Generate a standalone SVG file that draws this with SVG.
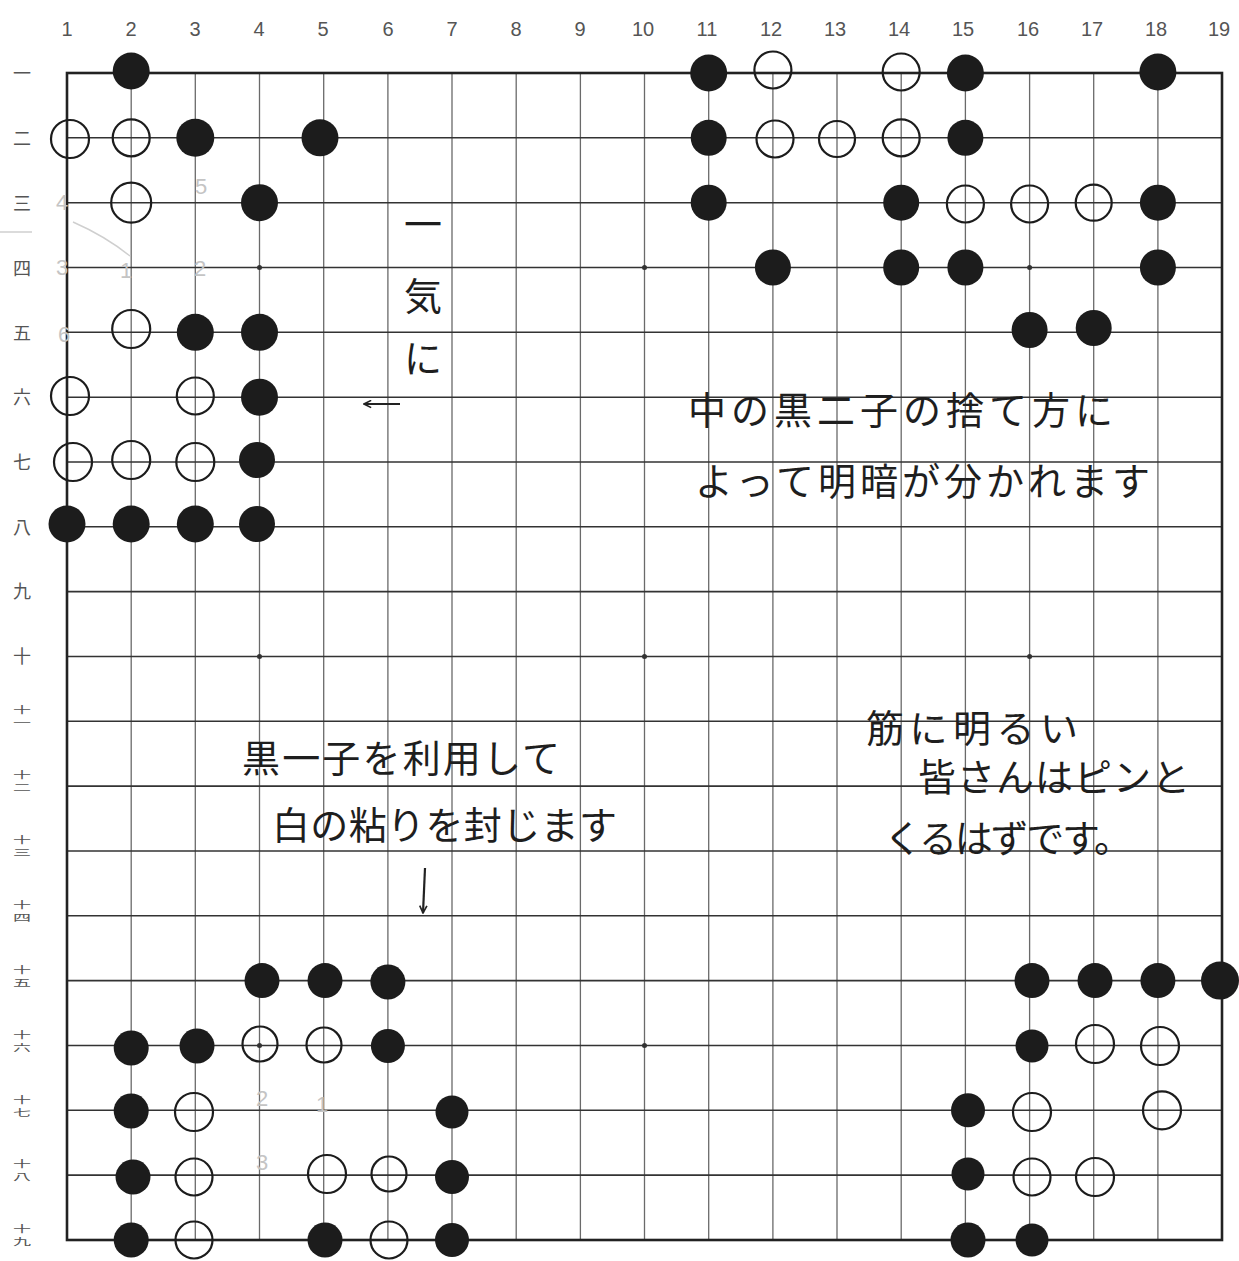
<svg xmlns="http://www.w3.org/2000/svg" width="1239" height="1261" viewBox="0 0 1239 1261">
<defs>
<marker id="ah" viewBox="0 0 10 10" refX="9" refY="5" markerWidth="9" markerHeight="9" orient="auto" markerUnits="userSpaceOnUse">
<path d="M1,1 L9,5 L1,9" fill="none" stroke="#222" stroke-width="1.8"/>
</marker>
</defs>
<style>
.gv{stroke:#6a6a6a;stroke-width:1.3;fill:none}
.gh{stroke:#333;stroke-width:1.6;fill:none}
.border{stroke:#222;stroke-width:2.6;fill:none}
.b{fill:#1c1c1c}
.w{fill:none;stroke:#1c1c1c;stroke-width:2.2}
.star{fill:#333}
.num{font-family:"Liberation Sans",sans-serif;font-size:20px;fill:#555;text-anchor:middle}
.rl{font-family:"Noto Sans CJK JP",sans-serif;font-size:18px;fill:#555;text-anchor:middle}
.hw{font-family:"Noto Sans CJK JP",sans-serif;font-size:38px;fill:#1e1e1e}
.pen{font-family:"Liberation Sans",sans-serif;font-size:22px;fill:#c4c4c4;text-anchor:middle}
.arr{stroke:#222;stroke-width:2.2;fill:none}
</style>
<rect width="1239" height="1261" fill="#ffffff"/>

<g id="column-numbers">
<text class="num" x="67" y="36">1</text>
<text class="num" x="131" y="36">2</text>
<text class="num" x="195" y="36">3</text>
<text class="num" x="259" y="36">4</text>
<text class="num" x="323" y="36">5</text>
<text class="num" x="388" y="36">6</text>
<text class="num" x="452" y="36">7</text>
<text class="num" x="516" y="36">8</text>
<text class="num" x="580" y="36">9</text>
<text class="num" x="643" y="36">10</text>
<text class="num" x="707" y="36">11</text>
<text class="num" x="771" y="36">12</text>
<text class="num" x="835" y="36">13</text>
<text class="num" x="899" y="36">14</text>
<text class="num" x="963" y="36">15</text>
<text class="num" x="1028" y="36">16</text>
<text class="num" x="1092" y="36">17</text>
<text class="num" x="1156" y="36">18</text>
<text class="num" x="1219" y="36">19</text>
</g>

<g id="row-labels">
<text class="rl" x="22" y="80">一</text>
<text class="rl" x="22" y="145">二</text>
<text class="rl" x="22" y="210">三</text>
<text class="rl" x="22" y="275">四</text>
<text class="rl" x="22" y="340">五</text>
<text class="rl" x="22" y="404">六</text>
<text class="rl" x="22" y="469">七</text>
<text class="rl" x="22" y="534">八</text>
<text class="rl" x="22" y="598">九</text>
<text class="rl" x="22" y="663">十</text>
<text class="rl" transform="translate(22,717) scale(1,0.5)"><tspan x="0" y="-8">十</tspan><tspan x="0" y="17">一</tspan></text>
<text class="rl" transform="translate(22,782) scale(1,0.5)"><tspan x="0" y="-8">十</tspan><tspan x="0" y="17">二</tspan></text>
<text class="rl" transform="translate(22,847) scale(1,0.5)"><tspan x="0" y="-8">十</tspan><tspan x="0" y="17">三</tspan></text>
<text class="rl" transform="translate(22,912) scale(1,0.5)"><tspan x="0" y="-8">十</tspan><tspan x="0" y="17">四</tspan></text>
<text class="rl" transform="translate(22,977) scale(1,0.5)"><tspan x="0" y="-8">十</tspan><tspan x="0" y="17">五</tspan></text>
<text class="rl" transform="translate(22,1042) scale(1,0.5)"><tspan x="0" y="-8">十</tspan><tspan x="0" y="17">六</tspan></text>
<text class="rl" transform="translate(22,1107) scale(1,0.5)"><tspan x="0" y="-8">十</tspan><tspan x="0" y="17">七</tspan></text>
<text class="rl" transform="translate(22,1171) scale(1,0.5)"><tspan x="0" y="-8">十</tspan><tspan x="0" y="17">八</tspan></text>
<text class="rl" transform="translate(22,1236) scale(1,0.5)"><tspan x="0" y="-8">十</tspan><tspan x="0" y="17">九</tspan></text>
</g>

<g id="grid">
<path class="gv" d="M131.2,73V1240 M195.3,73V1240 M259.5,73V1240 M323.7,73V1240 M387.9,73V1240 M452,73V1240 M516.2,73V1240 M580.4,73V1240 M644.5,73V1240 M708.7,73V1240 M772.9,73V1240 M837,73V1240 M901.2,73V1240 M965.4,73V1240 M1029.6,73V1240 M1093.7,73V1240 M1157.9,73V1240"/>
<path class="gh" d="M67,137.8H1222 M67,202.7H1222 M67,267.5H1222 M67,332.3H1222 M67,397.2H1222 M67,462H1222 M67,526.8H1222 M67,591.6H1222 M67,656.5H1222 M67,721.3H1222 M67,786.1H1222 M67,851H1222 M67,915.8H1222 M67,980.6H1222 M67,1045.5H1222 M67,1110.3H1222 M67,1175.1H1222"/>
<rect class="border" x="67" y="73" width="1155" height="1167"/>
<circle class="star" cx="259.5" cy="267.5" r="2.5"/>
<circle class="star" cx="644.5" cy="267.5" r="2.5"/>
<circle class="star" cx="1029.6" cy="267.5" r="2.5"/>
<circle class="star" cx="259.5" cy="656.5" r="2.5"/>
<circle class="star" cx="644.5" cy="656.5" r="2.5"/>
<circle class="star" cx="1029.6" cy="656.5" r="2.5"/>
<circle class="star" cx="259.5" cy="1045.5" r="2.5"/>
<circle class="star" cx="644.5" cy="1045.5" r="2.5"/>
<circle class="star" cx="1029.6" cy="1045.5" r="2.5"/>
</g>

<g id="pencil-marks">
<path d="M0,232 H32 M73,222 Q105,236 130,256" stroke="#cfcfcf" stroke-width="1.5" fill="none"/>
<text class="pen" x="62" y="210">4</text>
<text class="pen" x="62" y="275">3</text>
<text class="pen" x="64" y="342">6</text>
<text class="pen" x="126" y="278">1</text>
<text class="pen" x="201" y="194">5</text>
<text class="pen" x="200" y="276">2</text>
<text class="pen" x="262" y="1106">2</text>
<text class="pen" x="322" y="1112">1</text>
<text class="pen" x="262" y="1170">3</text>
</g>

<g id="stones">
<g id="row1">
<circle class="b" cx="131.2" cy="71" r="18.5"/>
<circle class="b" cx="708.7" cy="73" r="18.5"/>
<circle class="w" cx="772.9" cy="70" r="18.5"/>
<circle class="w" cx="901.2" cy="72" r="18.5"/>
<circle class="b" cx="965.4" cy="73" r="18.5"/>
<circle class="b" cx="1157.9" cy="72" r="18.5"/>
</g>
<g id="row2">
<circle class="w" cx="70" cy="139" r="19"/>
<circle class="w" cx="131.2" cy="137.8" r="18.5"/>
<circle class="b" cx="195.3" cy="137.8" r="19"/>
<circle class="b" cx="320" cy="137.8" r="18.5"/>
<circle class="b" cx="708.7" cy="137.8" r="18"/>
<circle class="w" cx="775" cy="139" r="18.5"/>
<circle class="w" cx="837" cy="139" r="18"/>
<circle class="w" cx="901.2" cy="137.8" r="18.5"/>
<circle class="b" cx="965.4" cy="137.8" r="18"/>
</g>
<g id="row3">
<circle class="w" cx="131.2" cy="202.7" r="20"/>
<circle class="b" cx="259.5" cy="202.7" r="18.5"/>
<circle class="b" cx="708.7" cy="202.7" r="18"/>
<circle class="b" cx="901.2" cy="202.7" r="18"/>
<circle class="w" cx="965.4" cy="204" r="18.5"/>
<circle class="w" cx="1029.6" cy="204" r="18.5"/>
<circle class="w" cx="1093.7" cy="202.7" r="18"/>
<circle class="b" cx="1157.9" cy="202.7" r="18"/>
</g>
<g id="row4">
<circle class="b" cx="772.9" cy="267.5" r="18"/>
<circle class="b" cx="901.2" cy="267.5" r="18"/>
<circle class="b" cx="965.4" cy="267.5" r="18"/>
<circle class="b" cx="1157.9" cy="267.5" r="18"/>
</g>
<g id="row5">
<circle class="w" cx="131.2" cy="329" r="19"/>
<circle class="b" cx="195.3" cy="332.3" r="18.5"/>
<circle class="b" cx="259.5" cy="332.3" r="18.5"/>
<circle class="b" cx="1029.6" cy="330" r="18"/>
<circle class="b" cx="1093.7" cy="328" r="18"/>
</g>
<g id="row6">
<circle class="w" cx="70" cy="396" r="19"/>
<circle class="w" cx="195.3" cy="396" r="18.5"/>
<circle class="b" cx="259.5" cy="397.2" r="18.5"/>
</g>
<g id="row7">
<circle class="w" cx="73" cy="462" r="19"/>
<circle class="w" cx="131.2" cy="460" r="19"/>
<circle class="w" cx="195.3" cy="462" r="19"/>
<circle class="b" cx="257" cy="460" r="18"/>
</g>
<g id="row8">
<circle class="b" cx="67" cy="524" r="18.5"/>
<circle class="b" cx="131.2" cy="524" r="18.5"/>
<circle class="b" cx="195.3" cy="524" r="18.5"/>
<circle class="b" cx="257" cy="524" r="18"/>
</g>
<g id="row15">
<circle class="b" cx="262" cy="980.6" r="17.5"/>
<circle class="b" cx="325" cy="980.6" r="17.5"/>
<circle class="b" cx="387.9" cy="982" r="17.5"/>
<circle class="b" cx="1032" cy="980.6" r="17.5"/>
<circle class="b" cx="1095" cy="980.6" r="17.5"/>
<circle class="b" cx="1157.9" cy="980.6" r="17.5"/>
<circle class="b" cx="1220" cy="980.6" r="19"/>
</g>
<g id="row16">
<circle class="b" cx="131.2" cy="1048" r="17.5"/>
<circle class="b" cx="197" cy="1046" r="17.5"/>
<circle class="w" cx="260" cy="1044" r="17.5"/>
<circle class="w" cx="324" cy="1045" r="17.5"/>
<circle class="b" cx="387.9" cy="1046" r="17"/>
<circle class="b" cx="1032" cy="1046" r="16.5"/>
<circle class="w" cx="1095" cy="1044" r="19"/>
<circle class="w" cx="1160" cy="1046" r="19"/>
</g>
<g id="row17">
<circle class="b" cx="131.2" cy="1111" r="17.5"/>
<circle class="w" cx="194" cy="1112" r="19"/>
<circle class="b" cx="452" cy="1112" r="16.5"/>
<circle class="b" cx="968" cy="1110.3" r="17"/>
<circle class="w" cx="1032" cy="1112" r="19"/>
<circle class="w" cx="1162" cy="1110.3" r="19"/>
</g>
<g id="row18">
<circle class="b" cx="133" cy="1177" r="17.5"/>
<circle class="w" cx="194" cy="1177" r="18.5"/>
<circle class="w" cx="327" cy="1174" r="19"/>
<circle class="w" cx="389" cy="1174" r="17.5"/>
<circle class="b" cx="452" cy="1177" r="17"/>
<circle class="b" cx="968" cy="1174" r="16.5"/>
<circle class="w" cx="1032" cy="1177" r="18.5"/>
<circle class="w" cx="1095" cy="1177" r="19"/>
</g>
<g id="row19">
<circle class="b" cx="131.2" cy="1240" r="17.5"/>
<circle class="w" cx="194" cy="1240" r="18.5"/>
<circle class="b" cx="325" cy="1240" r="17.5"/>
<circle class="w" cx="389" cy="1240" r="18.5"/>
<circle class="b" cx="452" cy="1240" r="17"/>
<circle class="b" cx="968" cy="1240" r="17.5"/>
<circle class="b" cx="1032" cy="1240" r="16.5"/>
</g>
</g>

<g id="annotations">
<g id="note-ikki">
<text class="hw" x="423" y="238" font-size="40" text-anchor="middle">一</text>
<text class="hw" x="423" y="310" font-size="44" text-anchor="middle">気</text>
<text class="hw" x="423" y="372" font-size="40" text-anchor="middle">に</text>
</g>
<g id="note-center">
<text class="hw" x="688" y="424" textLength="425" lengthAdjust="spacing">中の黒二子の捨て方に</text>
<text class="hw" x="695" y="495" textLength="455" lengthAdjust="spacing">よって明暗が分かれます</text>
</g>
<g id="note-bottom-left">
<text class="hw" x="242" y="772" textLength="318" lengthAdjust="spacing">黒一子を利用して</text>
<text class="hw" x="272" y="839" textLength="345" lengthAdjust="spacing">白の粘りを封じます</text>
</g>
<g id="note-right">
<text class="hw" x="866" y="742" textLength="212" lengthAdjust="spacing">筋に明るい</text>
<text class="hw" x="918" y="791" textLength="272" lengthAdjust="spacing">皆さんはピンと</text>
<text class="hw" x="884" y="852" textLength="248" lengthAdjust="spacing">くるはずです。</text>
</g>
</g>

<g id="connectors">
<path class="arr" d="M400,404 L364,404" marker-end="url(#ah)"/>
<path class="arr" d="M425,868 L423,913" marker-end="url(#ah)"/>
</g>
</svg>
